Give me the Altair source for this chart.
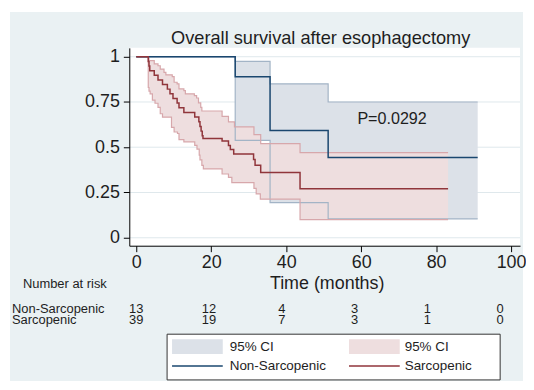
import altair as alt
import pandas as pd

# ---------------- data ----------------
# Non-Sarcopenic (Kaplan-Meier step function and 95% CI)
NS_TIME = [0, 26.4, 35.7, 51.2, 91.1]
NS_SURV = [1.0, 0.89, 0.593, 0.443, 0.443]
NS_CI_TIME = [0, 26.4, 35.7, 51.2, 91.1]
NS_CI_LO = [1.0, 0.538, 0.194, 0.104, 0.104]
NS_CI_HI = [1.0, 0.974, 0.85, 0.75, 0.75]

# Sarcopenic
SA_TIME = [0, 3.2, 3.4, 3.6, 4.8, 5.8, 7.0, 8.3, 9.0, 9.8, 10.9, 11.4, 12.7,
           15.6, 16.7, 17.0, 17.3, 17.6, 17.8, 22.9, 24.6, 25.1, 26.0, 31.3,
           31.7, 33.2, 43.7, 83.2]
SA_SURV = [1.0, 0.974, 0.949, 0.923, 0.897, 0.872, 0.846, 0.821, 0.795, 0.769,
           0.744, 0.718, 0.692, 0.667, 0.641, 0.615, 0.589, 0.564, 0.548,
           0.535, 0.51, 0.487, 0.462, 0.432, 0.40, 0.36, 0.27, 0.27]
SA_HI_TIME = [0, 3.4, 4.8, 5.8, 6.4, 7.4, 7.9, 9.6, 10.1, 10.9, 11.4, 12.7,
              13.1, 15.5, 16.1, 16.6, 17.2, 17.5, 22.9, 24.6, 26.2, 31.4,
              33.2, 43.7, 83.2]
SA_HI = [1.0, 0.978, 0.96, 0.95, 0.932, 0.914, 0.90, 0.89, 0.859, 0.85, 0.822,
         0.813, 0.795, 0.785, 0.772, 0.745, 0.72, 0.70, 0.67, 0.64, 0.612,
         0.57, 0.52, 0.47, 0.47]
SA_LO_TIME = [0, 3.2, 3.4, 3.7, 4.3, 5.0, 5.8, 6.4, 7.0, 9.4, 10.1, 11.0, 11.4,
              12.7, 15.6, 16.2, 16.8, 17.0, 17.5, 17.9, 22.9, 24.6, 25.5,
              31.4, 32.0, 33.1, 43.7, 83.2]
SA_LO = [1.0, 0.83, 0.81, 0.795, 0.76, 0.743, 0.72, 0.685, 0.666, 0.61, 0.584,
         0.576, 0.542, 0.53, 0.51, 0.49, 0.456, 0.43, 0.40, 0.38, 0.352, 0.333,
         0.304, 0.273, 0.242, 0.213, 0.10, 0.10]

RISK_TIME = [0, 20, 40, 60, 80, 100]
RISK_NS = [13, 12, 4, 3, 1, 0]
RISK_SA = [39, 19, 7, 3, 1, 0]

X_TICKS = [0, 20, 40, 60, 80, 100]
Y_TICKS = [0, 0.25, 0.5, 0.75, 1]
P_LABEL = "P=0.0292"
P_POS = (59, 0.658)

# ---------------- styling ----------------
FONT = "Liberation Sans"
TXT = "#1e1e1e"
BG = "#EAF1F3"
GRID = "#DFE8EC"
NS_COL = "#1A476F"
SA_COL = "#90353B"
NS_FILL = "#DCE1E8"
NS_EDGE = "#A3B4C6"
SA_FILL = "#EEDEDF"
SA_EDGE = "#D7A7AB"

W, H = 393, 199
X_DOM = [-1.86, 102.4]
Y_DOM = [-0.044, 1.049]


def step_at(ts, vs, t):
    val = vs[0]
    for ti, vi in zip(ts, vs):
        if ti <= t:
            val = vi
    return val


def band(ts_lo, lo, ts_hi, hi):
    times = sorted(set(ts_lo) | set(ts_hi))
    return pd.DataFrame({
        "t": times,
        "lo": [step_at(ts_lo, lo, t) for t in times],
        "hi": [step_at(ts_hi, hi, t) for t in times],
    })


ns_band = band(NS_CI_TIME, NS_CI_LO, NS_CI_TIME, NS_CI_HI)
sa_band = band(SA_LO_TIME, SA_LO, SA_HI_TIME, SA_HI)
ns_line = pd.DataFrame({"t": NS_TIME, "s": NS_SURV})
sa_line = pd.DataFrame({"t": SA_TIME, "s": SA_SURV})
sa_lo_df = pd.DataFrame({"t": SA_LO_TIME, "v": SA_LO})
sa_hi_df = pd.DataFrame({"t": SA_HI_TIME, "v": SA_HI})
ns_lo_df = pd.DataFrame({"t": NS_CI_TIME, "v": NS_CI_LO})
ns_hi_df = pd.DataFrame({"t": NS_CI_TIME, "v": NS_CI_HI})

x_axis = alt.Axis(values=X_TICKS, grid=False, title=None, labelFont=FONT,
                  labelFontSize=18, labelColor=TXT, domainColor="#000",
                  tickColor="#000", tickSize=6, labelPadding=2,
                  labelFlush=False, labelOverlap=False, zindex=1)
y_axis = alt.Axis(values=Y_TICKS, grid=False, title=None,
                  labelExpr="toString(datum.value)",
                  labelFont=FONT, labelFontSize=18, labelColor=TXT,
                  domainColor="#000", tickColor="#000", tickSize=6,
                  labelPadding=4, labelFlush=False, labelOverlap=False,
                  zindex=1)
xs = alt.Scale(domain=X_DOM, nice=False, zero=False)
ys = alt.Scale(domain=Y_DOM, nice=False, zero=False)


def X(f="t"):
    return alt.X(f"{f}:Q", scale=xs, axis=x_axis)


def Yc(f):
    return alt.Y(f"{f}:Q", scale=ys, axis=y_axis)


one = pd.DataFrame({"a": [0]})

bg = alt.Chart(one).mark_rect(color=BG).encode(
    x=alt.value(-120), x2=alt.value(396), y=alt.value(-36), y2=alt.value(335))
plot_bg = alt.Chart(one).mark_rect(color="white").encode(
    x=alt.value(0), x2=alt.value(W), y=alt.value(0), y2=alt.value(H))
grid = alt.Chart(pd.DataFrame({"y": Y_TICKS})).mark_rule(
    color=GRID, strokeWidth=1).encode(
    y=Yc("y"), x=alt.value(0), x2=alt.value(W))

ns_area = alt.Chart(ns_band).mark_area(
    interpolate="step-after", color=NS_FILL, opacity=1).encode(
    x=X(), y=Yc("lo"), y2="hi")
sa_area = alt.Chart(sa_band).mark_area(
    interpolate="step-after", color=SA_FILL, opacity=1).encode(
    x=X(), y=Yc("lo"), y2="hi")


def edge(df, col):
    return alt.Chart(df).mark_line(
        interpolate="step-after", color=col, strokeWidth=1.2).encode(
        x=X(), y=Yc("v"))


ns_l = alt.Chart(ns_line).mark_line(
    interpolate="step-after", color=NS_COL, strokeWidth=1.5).encode(
    x=X(), y=Yc("s"))
sa_l = alt.Chart(sa_line).mark_line(
    interpolate="step-after", color=SA_COL, strokeWidth=1.5).encode(
    x=X(), y=Yc("s"))

p_text = alt.Chart(pd.DataFrame({"t": [P_POS[0]], "s": [P_POS[1]],
                                 "lab": [P_LABEL]})).mark_text(
    align="left", baseline="middle", font=FONT, fontSize=16.2,
    color=TXT).encode(x=X(), y=Yc("s"), text="lab:N")


def label(txt, x, y, size=13, align="left", baseline="middle"):
    return alt.Chart(pd.DataFrame({"lab": [txt]})).mark_text(
        align=align, baseline=baseline, font=FONT, fontSize=size,
        color=TXT).encode(x=alt.value(x), y=alt.value(y), text="lab:N")


title = label("Overall survival after esophagectomy", 192.5, -3.5,
              size=18.3, align="center", baseline="alphabetic")
xtitle = label("Time (months)", 199, 238, size=18, align="center")
nar = label("Number at risk", -107, 238)
row1 = label("Non-Sarcopenic", -118, 263)
row2 = label("Sarcopenic", -118, 274)

# legend box
leg_box = alt.Chart(one).mark_rect(fill="white", stroke="#333",
                                   strokeWidth=1).encode(
    x=alt.value(38), x2=alt.value(373), y=alt.value(288), y2=alt.value(334))
sw1 = alt.Chart(one).mark_rect(color=NS_FILL).encode(
    x=alt.value(43), x2=alt.value(94), y=alt.value(293), y2=alt.value(308))
sw2 = alt.Chart(one).mark_rect(color=SA_FILL).encode(
    x=alt.value(221), x2=alt.value(272), y=alt.value(293), y2=alt.value(308))
ln1 = alt.Chart(one).mark_rule(color=NS_COL, strokeWidth=1.5).encode(
    x=alt.value(43), x2=alt.value(94), y=alt.value(320))
ln2 = alt.Chart(one).mark_rule(color=SA_COL, strokeWidth=1.5).encode(
    x=alt.value(221), x2=alt.value(272), y=alt.value(320))
lt1 = label("95% CI", 101, 301, size=13.5)
lt2 = label("95% CI", 277, 301, size=13.5)
lt3 = label("Non-Sarcopenic", 101, 320, size=13.5)
lt4 = label("Sarcopenic", 277, 320, size=13.5)

main = alt.layer(
    bg, plot_bg, grid, ns_area, sa_area,
    edge(ns_lo_df, NS_EDGE), edge(ns_hi_df, NS_EDGE),
    edge(sa_lo_df, SA_EDGE), edge(sa_hi_df, SA_EDGE),
    ns_l, sa_l, p_text,
    title, xtitle, nar, row1, row2,
    leg_box, sw1, sw2, ln1, ln2, lt1, lt2, lt3, lt4,
)

# number-at-risk table (its own horizontal scale, as in the reference)
risk_df = pd.DataFrame({"t": RISK_TIME, "ns": RISK_NS, "sa": RISK_SA})
risk_scale = alt.Scale(domain=[-1.913, 105.47], nice=False, zero=False)
risk1 = alt.Chart(risk_df).mark_text(
    align="center", baseline="middle", font=FONT, fontSize=13,
    color=TXT).encode(x=alt.X("t:Q", scale=risk_scale, axis=None),
                      y=alt.value(263), text="ns:Q")
risk2 = alt.Chart(risk_df).mark_text(
    align="center", baseline="middle", font=FONT, fontSize=13,
    color=TXT).encode(x=alt.X("t:Q", scale=risk_scale, axis=None),
                      y=alt.value(274), text="sa:Q")
table = alt.layer(risk1, risk2)

chart = alt.layer(main, table).resolve_scale(x="independent").properties(
    width=W, height=H,
    padding={"left": 2, "top": 3, "right": 0, "bottom": 0},
    background="white",
).configure_view(stroke=None)

chart.save("out.html", embed_options={"renderer": "svg", "actions": False})
